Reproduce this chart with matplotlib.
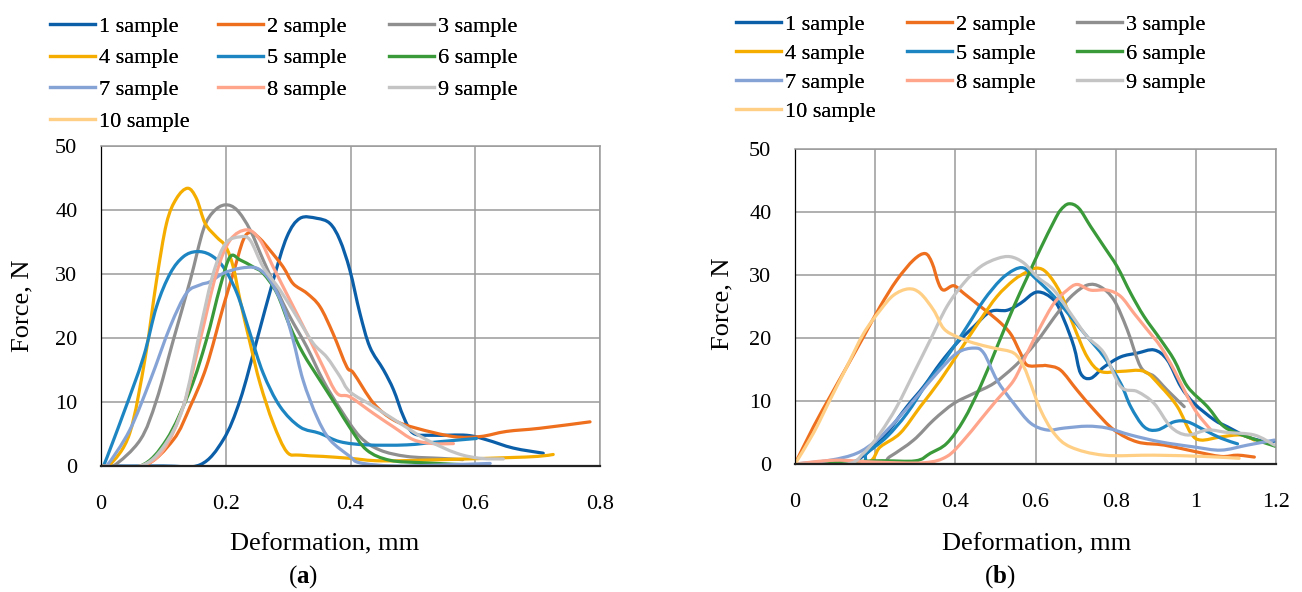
import matplotlib
matplotlib.use("Agg")
import matplotlib.pyplot as plt
from matplotlib.ticker import FuncFormatter
from matplotlib.path import Path
from matplotlib.patches import PathPatch
from matplotlib.lines import Line2D

plt.rcParams['font.family'] = ['Liberation Serif', 'DejaVu Serif']
plt.rcParams['mathtext.fontset'] = 'custom'
plt.rcParams['mathtext.rm'] = 'Liberation Serif'
plt.rcParams['mathtext.bf'] = 'Liberation Serif:bold'

labels = ["1 sample", "2 sample", "3 sample", "4 sample", "5 sample",
          "6 sample", "7 sample", "8 sample", "9 sample", "10 sample"]
colors = ["#0B5EA8", "#EE6F1E", "#8F8F8F", "#F5AE00", "#1D86C2",
          "#3A9A3A", "#86A3D6", "#FFA58C", "#C4C4C4", "#FFCF86"]

# ---- panel (a) ----
a1x = [0, 0.1, 0.159, 0.196, 0.223, 0.25, 0.276, 0.298, 0.319, 0.346, 0.367, 0.383, 0.399, 0.415, 0.431, 0.453, 0.469, 0.485, 0.501, 0.533, 0.586, 0.618, 0.661, 0.709]
a1y = [0, 0, 0.2, 4.1, 10.3, 19.7, 29, 35.8, 38.7, 38.7, 37.9, 35.3, 30.6, 23.9, 18.6, 15, 11.9, 7.7, 5.1, 4.8, 4.8, 4.1, 2.8, 2.0]
a2x = [0, 0.068, 0.116, 0.143, 0.169, 0.196, 0.212, 0.228, 0.24, 0.255, 0.271, 0.292, 0.308, 0.33, 0.351, 0.372, 0.394, 0.405, 0.437, 0.469, 0.506, 0.565, 0.608, 0.65, 0.704, 0.784]
a2y = [0, 0, 4.1, 9.3, 15.5, 24.9, 30.1, 35.3, 36.5, 35.5, 33.7, 31.1, 28.5, 27, 24.9, 20.7, 15.5, 14.5, 9.8, 7.2, 5.9, 4.6, 4.6, 5.4, 5.9, 6.9]
a3x = [0, 0.02, 0.063, 0.089, 0.116, 0.143, 0.164, 0.18, 0.199, 0.218, 0.239, 0.26, 0.282, 0.303, 0.33, 0.356, 0.383, 0.415, 0.447, 0.49, 0.543, 0.58]
a3y = [0, 0, 4.1, 10.3, 19.7, 29, 36.9, 39.7, 40.8, 40, 36.9, 32.2, 27.5, 23.3, 18.6, 13.4, 9, 4.6, 2.5, 1.5, 1.2, 1.0]
a4x = [0, 0.014, 0.046, 0.071, 0.089, 0.105, 0.121, 0.139, 0.153, 0.167, 0.185, 0.2, 0.212, 0.223, 0.239, 0.255, 0.276, 0.298, 0.319, 0.356, 0.399, 0.45, 0.55, 0.65, 0.70, 0.725]
a4y = [0, 0.15, 5.1, 17, 29, 37.9, 41.8, 43.4, 41.8, 37.9, 35.8, 34.3, 31.1, 25.9, 19.2, 12.9, 6.7, 2.2, 1.7, 1.5, 1.2, 0.8, 1.0, 1.3, 1.5, 1.8]
a5x = [0, 0.004, 0.036, 0.068, 0.089, 0.111, 0.132, 0.153, 0.175, 0.196, 0.218, 0.239, 0.26, 0.287, 0.319, 0.351, 0.383, 0.426, 0.49, 0.543, 0.602]
a5y = [0, 0, 8.2, 17, 24.9, 30.1, 32.7, 33.5, 33, 31.1, 27, 20.7, 14.5, 9.3, 6.1, 5.1, 3.8, 3.3, 3.3, 3.8, 4.3]
a6x = [0, 0.063, 0.105, 0.143, 0.169, 0.191, 0.207, 0.223, 0.244, 0.26, 0.282, 0.303, 0.324, 0.351, 0.378, 0.399, 0.426, 0.463, 0.517, 0.597]
a6y = [0, 0, 4.1, 11.9, 19.7, 28, 32.7, 32.2, 31.1, 30.1, 27, 21.8, 17.6, 13.4, 9.3, 6, 2.5, 0.9, 0.5, 0.15]
a7x = [0, 0.009, 0.046, 0.079, 0.111, 0.137, 0.159, 0.175, 0.196, 0.223, 0.25, 0.271, 0.292, 0.308, 0.324, 0.346, 0.367, 0.399, 0.415, 0.469, 0.543, 0.624]
a7y = [0, 0, 5.6, 13.4, 21.8, 27, 28.3, 28.8, 30.1, 30.9, 30.9, 29, 24.9, 19.7, 13.4, 7.7, 4.1, 1.5, 0.5, 0, 0.15, 0.4]
a8x = [0, 0.063, 0.1, 0.132, 0.159, 0.185, 0.207, 0.234, 0.255, 0.276, 0.303, 0.33, 0.356, 0.378, 0.399, 0.437, 0.469, 0.501, 0.533, 0.565]
a8y = [0, 0, 2.5, 9.3, 19.7, 30.1, 35.3, 36.9, 35.3, 31.1, 25.9, 20.7, 15.5, 11.4, 10.8, 8.2, 6.1, 4.1, 3.5, 3.5]
a9x = [0, 0.063, 0.1, 0.132, 0.159, 0.18, 0.2, 0.223, 0.239, 0.26, 0.287, 0.314, 0.34, 0.362, 0.383, 0.399, 0.437, 0.479, 0.522, 0.57, 0.608, 0.645]
a9y = [0, 0, 3, 9.3, 21.3, 30.1, 34.8, 35.8, 35.3, 31.1, 27.5, 23.3, 19.2, 17, 14, 11.6, 9.3, 6.7, 4.1, 2.0, 1.2, 1.1]
a10x = []
a10y = []

# ---- panel (b) ----
b1x = [0, 0.129, 0.1875, 0.229, 0.279, 0.321, 0.3625, 0.404, 0.446, 0.4875, 0.529, 0.5625, 0.604, 0.646, 0.671, 0.696, 0.7125, 0.7375, 0.771, 0.8125, 0.854, 0.896, 0.929, 0.9625, 0.996, 1.046, 1.079, 1.129, 1.179, 1.204]
b1y = [0, 0, 2.2, 4.9, 9.1, 12.3, 16, 19.2, 21.8, 24.2, 24.4, 25.5, 27.3, 26, 22.9, 18.6, 14.4, 13.6, 15.4, 17, 17.6, 18.1, 16.5, 12.3, 9.6, 7, 5.9, 4.3, 3.5, 3.8]
b2x = [0, 0.046, 0.0875, 0.129, 0.171, 0.2125, 0.254, 0.296, 0.325, 0.342, 0.358, 0.371, 0.396, 0.421, 0.4625, 0.504, 0.5375, 0.5625, 0.579, 0.6125, 0.629, 0.6625, 0.704, 0.746, 0.796, 0.854, 0.921, 0.996, 1.0625, 1.104, 1.146]
b2y = [0, 5.9, 10.7, 15.4, 20.2, 25, 29.2, 32.4, 33.4, 31.9, 28.7, 27.6, 28.3, 27.1, 25, 22.9, 20.7, 17.6, 15.7, 15.6, 15.6, 14.9, 11.7, 8.6, 5.4, 3.5, 3.0, 2.0, 1.2, 1.4, 1.1]
b3x = [0, 0.2, 0.2375, 0.296, 0.346, 0.396, 0.446, 0.496, 0.546, 0.579, 0.6125, 0.646, 0.6875, 0.729, 0.7625, 0.796, 0.829, 0.8625, 0.896, 0.929, 0.971]
b3y = [0, 0, 1.2, 3.8, 7, 9.6, 11.2, 12.8, 15.4, 17.6, 20.2, 23.2, 26.5, 28.4, 28.1, 26, 21.3, 15.4, 13.9, 11.7, 9.1]
b4x = [0, 0.17, 0.2125, 0.2625, 0.3125, 0.3625, 0.4125, 0.4625, 0.504, 0.546, 0.579, 0.604, 0.629, 0.6625, 0.696, 0.729, 0.7625, 0.8125, 0.871, 0.9125, 0.954, 0.9875, 1.0125, 1.0625, 1.1125, 1.146]
b4y = [0, 0, 2.7, 4.9, 9.1, 13.3, 18.1, 22.9, 26.6, 29.2, 30.5, 31.1, 30.3, 27.1, 21.8, 17, 14.7, 14.7, 14.7, 12.3, 9.1, 4.9, 3.8, 4.3, 4.6, 3.8]
b5x = [0, 0.16, 0.179, 0.229, 0.279, 0.329, 0.379, 0.429, 0.471, 0.5125, 0.546, 0.571, 0.596, 0.646, 0.6875, 0.729, 0.771, 0.8125, 0.8375, 0.871, 0.904, 0.946, 0.979, 1.021, 1.0625, 1.104]
b5y = [0, 0, 1.7, 4.3, 8.0, 12.8, 17, 21.8, 26, 29.2, 30.8, 31.1, 29.7, 26.6, 23.4, 20.2, 17, 12.8, 9.1, 5.9, 5.4, 6.7, 6.7, 5.4, 4.1, 3.2]
b6x = [0, 0.2, 0.3, 0.3375, 0.379, 0.421, 0.4625, 0.504, 0.546, 0.579, 0.6125, 0.646, 0.6625, 0.683, 0.708, 0.7375, 0.771, 0.804, 0.8375, 0.871, 0.9125, 0.946, 0.979, 1.029, 1.071, 1.129, 1.204]
b6y = [0, 0.5, 0.5, 1.7, 3.3, 7, 12.3, 18.6, 25, 29.6, 34.2, 38.5, 40.3, 41.3, 40.6, 37.7, 34.5, 31.3, 27.1, 23.4, 19.7, 16.5, 12.3, 9.1, 5.9, 4.3, 2.7]
b7x = [0, 0.0875, 0.154, 0.204, 0.254, 0.304, 0.354, 0.404, 0.446, 0.471, 0.504, 0.546, 0.5875, 0.629, 0.671, 0.729, 0.779, 0.8375, 0.9125, 0.996, 1.0625, 1.129, 1.196]
b7y = [0, 0.6, 1.7, 3.8, 7, 10.7, 14.4, 17.6, 18.4, 17.6, 13.3, 9.6, 6.5, 5.4, 5.7, 6.0, 5.7, 4.6, 3.5, 2.7, 2.2, 3.0, 3.8]
b8x = [0, 0.1, 0.2, 0.321, 0.379, 0.421, 0.4625, 0.504, 0.546, 0.579, 0.6125, 0.646, 0.679, 0.704, 0.7375, 0.779, 0.8125, 0.846, 0.879, 0.9125, 0.946, 0.979, 1.004, 1.0375]
b8y = [0, 0.6, 0.3, 0.2, 1.2, 3.8, 7, 10.2, 13.3, 17.6, 21.8, 25.5, 27.6, 28.5, 27.6, 27.6, 26.6, 23.9, 21.3, 18.6, 14.9, 10.7, 8.0, 5.4]
b9x = [0, 0.129, 0.171, 0.2125, 0.254, 0.296, 0.3375, 0.379, 0.421, 0.4625, 0.504, 0.5375, 0.571, 0.604, 0.646, 0.6875, 0.729, 0.771, 0.8125, 0.854, 0.896, 0.9375, 0.979, 1.029, 1.079, 1.146, 1.196]
b9y = [0, 0, 1.7, 4.9, 9.1, 14.4, 19.7, 25, 28.7, 31.3, 32.6, 32.9, 31.9, 29.7, 27.6, 23.9, 20.2, 17.6, 12.3, 11.5, 9.6, 5.9, 4.6, 5.4, 5.0, 4.6, 3.0]
b10x = [0, 0.046, 0.0875, 0.129, 0.171, 0.2125, 0.246, 0.283, 0.3125, 0.346, 0.371, 0.404, 0.446, 0.496, 0.546, 0.571, 0.5875, 0.6125, 0.646, 0.6875, 0.771, 0.896, 1.021, 1.108]
b10y = [0, 4.9, 10.2, 15.4, 20.7, 24.4, 26.8, 27.8, 27.1, 24.4, 21.5, 20.2, 19.2, 18.4, 17.6, 15.4, 12.8, 8.6, 4.9, 2.7, 1.4, 1.4, 1.2, 0.9]

series_a = [(a1x, a1y), (a2x, a2y), (a3x, a3y), (a4x, a4y), (a5x, a5y),
            (a6x, a6y), (a7x, a7y), (a8x, a8y), (a9x, a9y), (a10x, a10y)]
series_b = [(b1x, b1y), (b2x, b2y), (b3x, b3y), (b4x, b4y), (b5x, b5y),
            (b6x, b6y), (b7x, b7y), (b8x, b8y), (b9x, b9y), (b10x, b10y)]

W, H = 1302, 592
fig = plt.figure(figsize=(W / 100, H / 100), dpi=100)

grid_c = "#9A9A9A"
fs = 16
LW = 2.3


def smooth_path(x, y):
    # Excel-style "smoothed line": Catmull-Rom through the points, as bezier
    pts = list(zip(x, y))
    n = len(pts)
    verts = [pts[0]]
    codes = [Path.MOVETO]
    for i in range(n - 1):
        p0 = pts[max(i - 1, 0)]
        p1 = pts[i]
        p2 = pts[i + 1]
        p3 = pts[min(i + 2, n - 1)]
        c1 = (p1[0] + (p2[0] - p0[0]) / 6, p1[1] + (p2[1] - p0[1]) / 6)
        c2 = (p2[0] - (p3[0] - p1[0]) / 6, p2[1] - (p3[1] - p1[1]) / 6)
        verts += [c1, c2, p2]
        codes += [Path.CURVE4] * 3
    return Path(verts, codes)


def setup(ax, series, xmax, xstep):
    for (x, y), c in zip(series, colors):
        if len(x) < 2:
            continue
        ax.add_patch(PathPatch(smooth_path(x, y), fill=False, edgecolor=c,
                               lw=LW, capstyle='round', joinstyle='round'))
    ax.set_xlim(0, xmax)
    ax.set_ylim(0, 50)
    ticks = [i * xstep for i in range(int(round(xmax / xstep)) + 1)]
    ax.set_xticks(ticks)
    ax.set_yticks(range(0, 51, 10))
    ax.xaxis.set_major_formatter(FuncFormatter(lambda v, p: f"{v:g}"))
    ax.grid(True, color=grid_c, lw=1.1)
    ax.set_axisbelow(True)
    ax.tick_params(length=0, labelsize=fs)
    ax.tick_params(axis='x', pad=21)
    ax.tick_params(axis='y', pad=17)
    for s in ["top", "right"]:
        ax.spines[s].set_color(grid_c)
        ax.spines[s].set_linewidth(1.1)
    ax.spines["left"].set_color("black")
    ax.spines["left"].set_linewidth(0.9)
    ax.spines["bottom"].set_color("#222222")
    ax.spines["bottom"].set_linewidth(1.6)


ax1 = fig.add_axes([101 / W, 1 - 466 / H, 499 / W, 320 / H])
setup(ax1, series_a, 0.8, 0.2)
ax2 = fig.add_axes([795 / W, 1 - 464 / H, 481 / W, 315 / H])
setup(ax2, series_b, 1.2, 0.2)

# legends: one small legend per column so the columns sit evenly like Excel's
handles = [Line2D([], [], color=c, lw=LW) for c in colors]


def add_legend(col_x, top, spacing):
    for j, x0 in enumerate(col_x):
        idx = list(range(j, 10, 3))
        lg = fig.legend([handles[i] for i in idx], [labels[i] for i in idx],
                        loc='upper left', bbox_to_anchor=(x0 / W, 1 - top / H),
                        frameon=False, fontsize=fs, handlelength=2.0,
                        handletextpad=0.2, labelspacing=spacing, borderpad=0)
        fig.add_artist(lg)


add_legend([39, 207, 378], 5, 0.5)
add_legend([725, 896, 1066], 3, 0.38)

# axis titles and captions
fig.text(325 / W, 1 - 544 / H, "Deformation, mm", ha='center', va='center', fontsize=19)
fig.text(1037 / W, 1 - 544 / H, "Deformation, mm", ha='center', va='center', fontsize=19)
fig.text(22 / W, 1 - 306 / H, "Force, N", ha='center', va='center', rotation=90, fontsize=19)
fig.text(722 / W, 1 - 304 / H, "Force, N", ha='center', va='center', rotation=90, fontsize=19)
fig.text(303 / W, 1 - 577 / H, r"($\mathbf{a}$)", ha='center', va='center', fontsize=18)
fig.text(1000 / W, 1 - 577 / H, r"($\mathbf{b}$)", ha='center', va='center', fontsize=18)

fig.savefig("out.png", dpi=100)
